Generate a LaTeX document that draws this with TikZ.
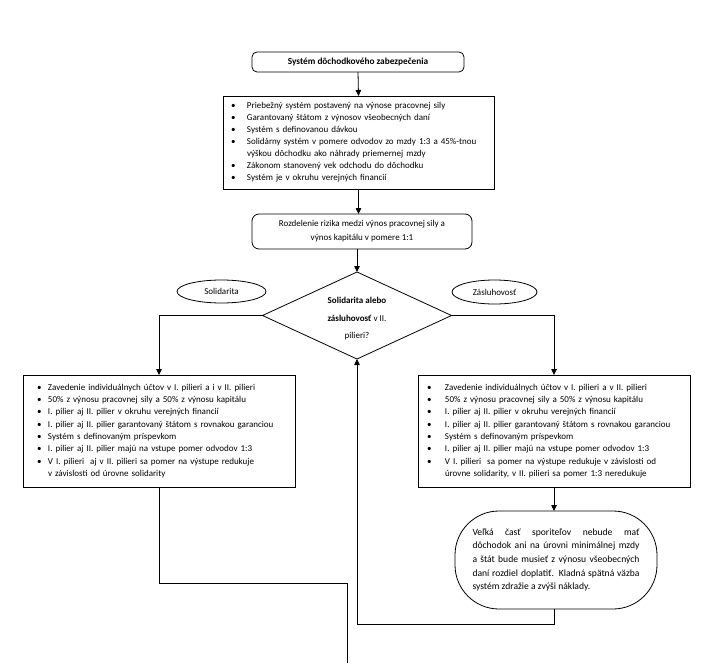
\documentclass[tikz,border=0pt]{standalone}
\usepackage{fontspec}
\setmainfont{Carlito}
\usetikzlibrary{shapes.geometric,arrows.meta}
\newcommand{\bl}[1]{\makebox[#1][l]{\textbullet}}
\begin{document}
\begin{tikzpicture}[x=1pt,y=-1pt,
  every node/.style={inner sep=0pt, outer sep=0pt},
  ln/.style={line width=0.8pt, line join=miter},
  arr/.style={ln, -{Triangle[length=6pt,width=5.5pt]}},
  rbox/.style={draw, ln, rounded corners=5pt, align=center},
  sbox/.style={draw, ln, align=left},
  ell/.style={draw, ln, ellipse},
  small/.style={font=\fontsize{9}{12}\selectfont}
]
\useasboundingbox[fill=white] (0,0) rectangle (703,663);

\node[rbox, small, minimum width=212pt, minimum height=20pt, font=\fontsize{9.3}{12}\selectfont\bfseries] (title) at (358,62) {Systém dôchodkového zabezpečenia};

\node[sbox, small, minimum height=93pt, text width=255pt, inner xsep=8pt] (box2) at (358.5,142.5) {%
\bl{16pt}Priebežný systém postavený na výnose pracovnej sily\\
\bl{16pt}Garantovaný štátom z výnosov všeobecných daní\\
\bl{16pt}Systém s definovanou dávkou\\
\bl{16pt}Solidárny systém v pomere odvodov zo mzdy 1:3 a 45\%-tnou\\
\hspace*{16pt}výškou dôchodku ako náhrady priemernej mzdy\\
\bl{16pt}Zákonom stanovený vek odchodu do dôchodku\\
\bl{16pt}Systém je v okruhu verejných financií};

\node[rbox, minimum width=220pt, minimum height=35pt, rounded corners=7pt, font=\fontsize{9}{14}\selectfont] (box3) at (362,231.5) {Rozdelenie rizika medzi výnos pracovnej sily a\\výnos kapitálu v pomere 1:1};

\node[draw, ln, diamond, shape aspect=2.17, minimum width=189pt, minimum height=87pt] (dia) at (357,315.5) {};
\node[align=center, font=\fontsize{9}{17.5}\selectfont] (dtext) at (357,319) {\textbf{Solidarita alebo}\\\textbf{zásluhovosť} v II.\\pilieri?};

\node[ell, small, minimum width=89pt, minimum height=23pt] (sol) at (221.5,291.5) {Solidarita};
\node[ell, small, minimum width=85pt, minimum height=24pt] (zas) at (494.5,292) {Zásluhovosť};

\node[sbox, minimum height=112pt, text width=258pt, inner xsep=7pt, font=\fontsize{9}{12.3}\selectfont] (lbox) at (159,431) {%
\hspace*{7pt}\bl{11pt}Zavedenie individuálnych účtov v I. pilieri a i v II. pilieri\\
\hspace*{7pt}\bl{11pt}50\% z výnosu pracovnej sily a 50\% z výnosu kapitálu\\
\hspace*{7pt}\bl{11pt}I. pilier aj II. pilier v okruhu verejných financií\\
\hspace*{7pt}\bl{11pt}I. pilier aj II. pilier garantovaný štátom s rovnakou garanciou\\
\hspace*{7pt}\bl{11pt}Systém s definovaným príspevkom\\
\hspace*{7pt}\bl{11pt}I. pilier aj II. pilier majú na vstupe pomer odvodov 1:3\\
\hspace*{7pt}\bl{11pt}V I. pilieri\ \ aj v II. pilieri sa pomer na výstupe redukuje\\
\hspace*{18pt}v závislosti od úrovne solidarity};

\node[sbox, minimum height=112pt, text width=258pt, inner xsep=7pt, font=\fontsize{9}{12.3}\selectfont] (rbox) at (554,431) {%
\hspace*{2pt}\bl{18pt}Zavedenie individuálnych účtov v I. pilieri a v II. pilieri\\
\hspace*{2pt}\bl{18pt}50\% z výnosu pracovnej sily a 50\% z výnosu kapitálu\\
\hspace*{2pt}\bl{18pt}I. pilier aj II. pilier v okruhu verejných financií\\
\hspace*{2pt}\bl{18pt}I. pilier aj II. pilier garantovaný štátom s rovnakou garanciou\\
\hspace*{2pt}\bl{18pt}Systém s definovaným príspevkom\\
\hspace*{2pt}\bl{18pt}I. pilier aj II. pilier majú na vstupe pomer odvodov 1:3\\
\hspace*{2pt}\bl{18pt}V I. pilieri\ \ sa pomer na výstupe redukuje v závislosti od\\
\hspace*{20pt}úrovne solidarity, v II. pilieri sa pomer 1:3 neredukuje};

\node[draw, ln, rounded corners=44pt, minimum width=202pt, minimum height=98pt, text width=167pt, align=justify, font=\fontsize{9.6}{13.7}\selectfont] (term) at (556,560) {Veľká časť sporiteľov nebude mať\linebreak dôchodok ani na úrovni minimálnej mzdy\linebreak a štát bude musieť z výnosu všeobecných\linebreak daní rozdiel doplatiť. Kladná spätná väzba\linebreak systém zdražie a zvýši náklady.};

\coordinate (fb) at (357,624);
\coordinate (lb) at (347,583);
\coordinate (lend) at (347,663);

\draw[arr] (title.south) -- (box2.north);
\draw[arr] (box2.south) -- (box2.south |- box3.north);
\draw[arr] (dia.north |- box3.south) -- (dia.north);
\draw[arr] (dia.west) -| (lbox.north);
\draw[arr] (dia.east) -| (rbox.north);
\draw[arr] (rbox.south) -- (rbox.south |- term.north);
\draw[arr] (rbox.south |- term.south) |- (fb) -- (dia.south);
\draw[ln] (lbox.south) |- (lb) -- (lend);
\end{tikzpicture}
\end{document}
